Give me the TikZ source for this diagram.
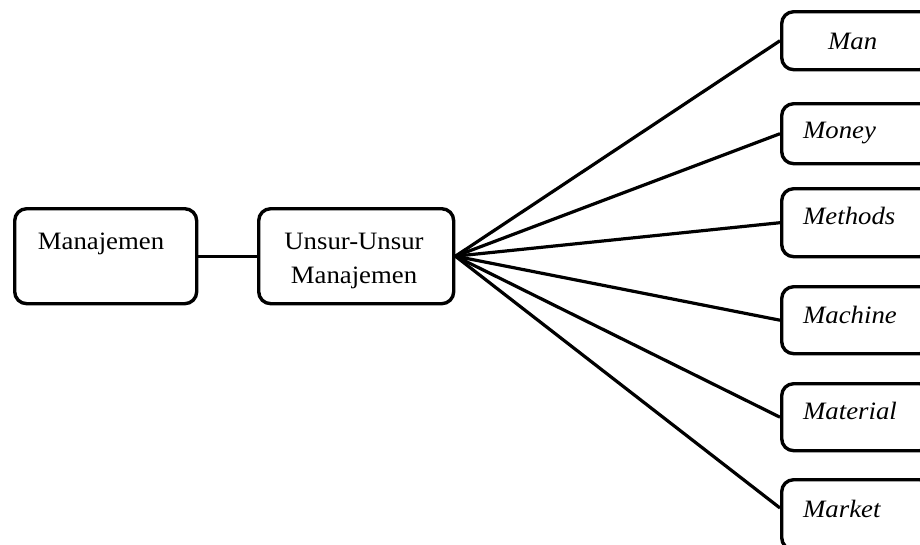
\documentclass[tikz,border=0pt]{standalone}
\usepackage{fontspec}
\setmainfont[FakeStretch=1.07]{Liberation Serif}
\begin{document}
\begin{tikzpicture}[x=1pt, y=-1pt,
  box/.style={draw, line width=3.4pt, rounded corners=12pt, inner sep=0pt,
              anchor=north west, minimum width=#1},
  box/.default=182pt,
  txt/.style={inner sep=0pt, anchor=base, font=\fontsize{25}{34}\selectfont},
  itxt/.style={inner sep=0pt, anchor=base west, font=\fontsize{25}{34}\selectfont\itshape},
  link/.style={line width=3.2pt}]
\useasboundingbox (0,0) rectangle (920,544);

% left part: the concept and its elements
\node[box=182pt, minimum height=95pt] (mgmt) at (13,207) {};
\node[txt] (mgmtlabel) at (101,249) {Manajemen};
\node[box=195pt, minimum height=95pt] (unsur) at (257,207) {};
\node[txt] (unsurA) at (354,249) {Unsur-Unsur};
\node[txt] (unsurB) at (354,283) {Manajemen};

% right column: the six M
\node[box=150pt, minimum height=58pt] (man)   at (780,10)  {};
\node[box=150pt, minimum height=60pt] (money) at (780,102) {};
\node[box=150pt, minimum height=68pt] (meth)  at (780,187) {};
\node[box=150pt, minimum height=67pt] (mach)  at (780,285) {};
\node[box=150pt, minimum height=67pt] (mat)   at (780,382) {};
\node[box=150pt, minimum height=70pt] (mark)  at (780,478) {};

\node[itxt] (manlabel)   at (828,49)  {Man};
\node[itxt] (moneylabel) at (803,138) {Money};
\node[itxt] (methlabel)  at (803,224) {Methods};
\node[itxt] (machlabel)  at (803,323) {Machine};
\node[itxt] (matlabel)   at (803,419) {Material};
\node[itxt] (marklabel)  at (803,517) {Market};

% connectors
\draw[link] (mgmt.east) -- (unsur.west);
\foreach \b in {man,money,meth,mach,mat}
  \draw[link] (unsur.east) -- (\b.west);
\draw[link] (unsur.east) -- ([yshift=-30pt]mark.north west);
\end{tikzpicture}
\end{document}
